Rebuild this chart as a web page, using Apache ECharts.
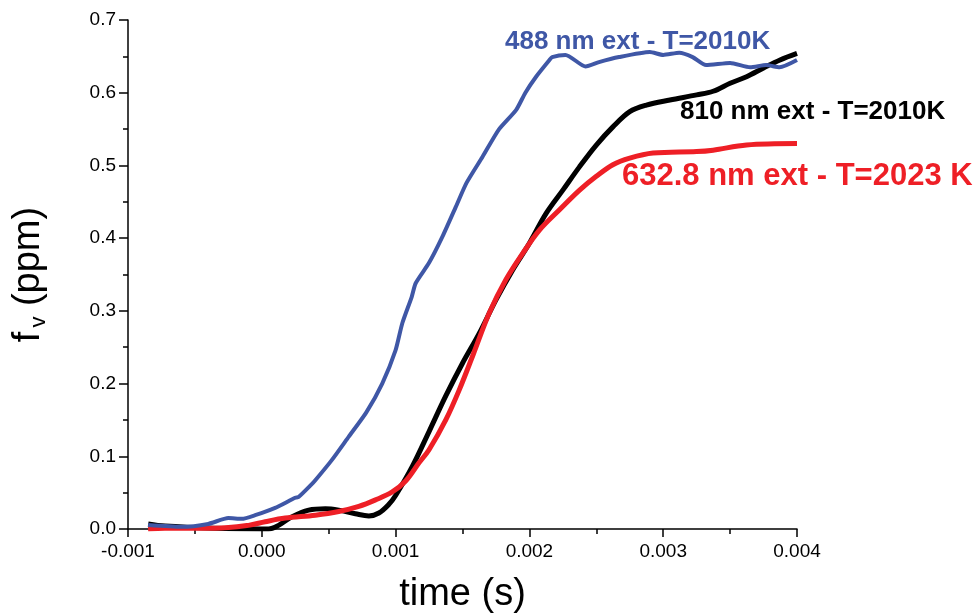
<!DOCTYPE html>
<html>
<head>
<meta charset="utf-8">
<script src="https://cdn.jsdelivr.net/npm/echarts@6/dist/echarts.min.js"></script>
<style>
html,body{margin:0;padding:0;background:#fff;overflow:hidden;}
#c{width:975px;height:616px;}
</style>
</head>
<body>
<div id="c"></div>
<script>
// time in seconds, f_v in ppm
var blueTime = [-0.00085,-0.00060,-0.00040,-0.00025,-0.00015,-0.00005,0.00010,0.00025,0.000275,0.00037,0.00040,0.00052,0.00065,0.00078,0.00090,0.00100,0.00105,0.00112,0.00115,0.00125,0.00135,0.00145,0.00153,0.00165,0.00177,0.00190,0.00197,0.00205,0.00215,0.00217,0.00227,0.00242,0.00252,0.00267,0.00290,0.00300,0.00312,0.00322,0.00332,0.00350,0.00365,0.00377,0.00387,0.00400];
var blueVal  = [0.0055,0.003,0.007,0.015,0.014,0.019,0.029,0.043,0.044,0.061,0.067,0.094,0.127,0.160,0.200,0.246,0.283,0.319,0.338,0.366,0.402,0.443,0.476,0.512,0.549,0.576,0.600,0.622,0.645,0.649,0.652,0.636,0.642,0.649,0.656,0.652,0.655,0.649,0.638,0.641,0.635,0.638,0.635,0.645];

var blackTime = [-0.000849,-0.000724,-0.00036,-0.00001,0.00005,0.000125,0.000227,0.00035,0.000475,0.000575,0.00070,0.00080,0.000875,0.00095,0.00100,0.001125,0.00125,0.001375,0.00150,0.001625,0.00175,0.001874,0.00200,0.002125,0.00225,0.002374,0.00250,0.002624,0.00275,0.002874,0.00305,0.00325,0.003373,0.00350,0.003623,0.00375,0.003873,0.00400];
var blackVal  = [0.007,0.004,0.001,0.000,0.000,0.005,0.017,0.026,0.028,0.026,0.021,0.018,0.022,0.034,0.046,0.086,0.134,0.183,0.228,0.269,0.315,0.356,0.393,0.434,0.466,0.498,0.528,0.553,0.574,0.583,0.590,0.597,0.602,0.613,0.622,0.634,0.645,0.654];

var redTime = [-0.00085,-0.000724,-0.00035,-0.00010,0.000025,0.000175,0.00040,0.000575,0.000725,0.00085,0.000975,0.001075,0.001175,0.00125,0.001375,0.001475,0.00158,0.00170,0.001825,0.00195,0.002075,0.002225,0.002375,0.00250,0.002624,0.00275,0.002924,0.00325,0.003373,0.003623,0.00400];
var redVal  = [0.000,0.001,0.001,0.005,0.010,0.015,0.019,0.024,0.031,0.040,0.051,0.066,0.091,0.109,0.150,0.191,0.240,0.297,0.343,0.379,0.411,0.439,0.466,0.485,0.501,0.510,0.517,0.519,0.521,0.528,0.530];

var seriesNames = ['810 nm ext - T=2010K','632.8 nm ext - T=2023 K','488 nm ext - T=2010K'];
var xTickMin = -0.001, xTickMax = 0.004, xTickStep = 0.001;
var yTickMin = 0, yTickMax = 0.7, yTickStep = 0.1;

function pairs(t, v){ return t.map(function(x,i){ return [x, v[i]]; }); }

var FONT = '"Liberation Sans", Arial, sans-serif';
var chart = echarts.init(document.getElementById('c'), null, {renderer:'canvas', width:975, height:616});
chart.setOption({
  animation:false,
  backgroundColor:'#ffffff',
  grid:{left:128, top:20, width:669, height:509, containLabel:false, outerBoundsMode:'none'},
  xAxis:{
    type:'value', min:xTickMin, max:xTickMax, interval:xTickStep,
    name:'time (s)', nameLocation:'middle', nameGap:47,
    nameTextStyle:{fontFamily:FONT, fontSize:38, color:'#000'},
    axisLine:{show:true, onZero:false, lineStyle:{color:'#000', width:1.5}},
    axisTick:{show:true, inside:false, length:8, lineStyle:{color:'#000', width:1.5}},
    minorTick:{show:true, splitNumber:2, length:5, lineStyle:{color:'#000', width:1.5}},
    axisLabel:{fontFamily:FONT, fontSize:19, color:'#000', margin:13,
      formatter:function(v){ return v.toFixed(3); }},
    splitLine:{show:false}
  },
  yAxis:{
    type:'value', min:yTickMin, max:yTickMax, interval:yTickStep,
    name:'{f|f}{s|v}{f| (ppm)}', nameLocation:'middle', nameGap:78, nameRotate:90,
    nameTextStyle:{rich:{
      f:{fontFamily:FONT, fontSize:38, color:'#000'},
      s:{fontFamily:FONT, fontSize:22, color:'#000', verticalAlign:'bottom', padding:[20,0,0,4]}
    }},
    axisLine:{show:true, onZero:false, lineStyle:{color:'#000', width:1.5}},
    axisTick:{show:true, inside:false, length:9, lineStyle:{color:'#000', width:1.5}},
    minorTick:{show:true, splitNumber:2, length:5, lineStyle:{color:'#000', width:1.5}},
    axisLabel:{fontFamily:FONT, fontSize:19, color:'#000', margin:12,
      formatter:function(v){ return v.toFixed(1); }},
    splitLine:{show:false}
  },
  series:[
    {name:seriesNames[0], type:'line', data:pairs(blackTime, blackVal), showSymbol:false, symbol:'none', smooth:0.35,
     lineStyle:{color:'#000000', width:5}, z:2},
    {name:seriesNames[1], type:'line', data:pairs(redTime, redVal), showSymbol:false, symbol:'none', smooth:0.35,
     lineStyle:{color:'#ee1f26', width:5}, z:3},
    {name:seriesNames[2], type:'line', data:pairs(blueTime, blueVal), showSymbol:false, symbol:'none', smooth:0.2,
     lineStyle:{color:'#3f57a6', width:4}, z:4}
  ],
  graphic:[
    {type:'text', left:505, top:29, style:{text:seriesNames[2], font:'bold 26px '+FONT, fill:'#3f57a6'}},
    {type:'text', left:680, top:99, style:{text:seriesNames[0], font:'bold 26px '+FONT, fill:'#000000'}},
    {type:'text', left:622, top:161, style:{text:seriesNames[1], font:'bold 31px '+FONT, fill:'#ee1f26'}}
  ]
});
</script>
</body>
</html>
